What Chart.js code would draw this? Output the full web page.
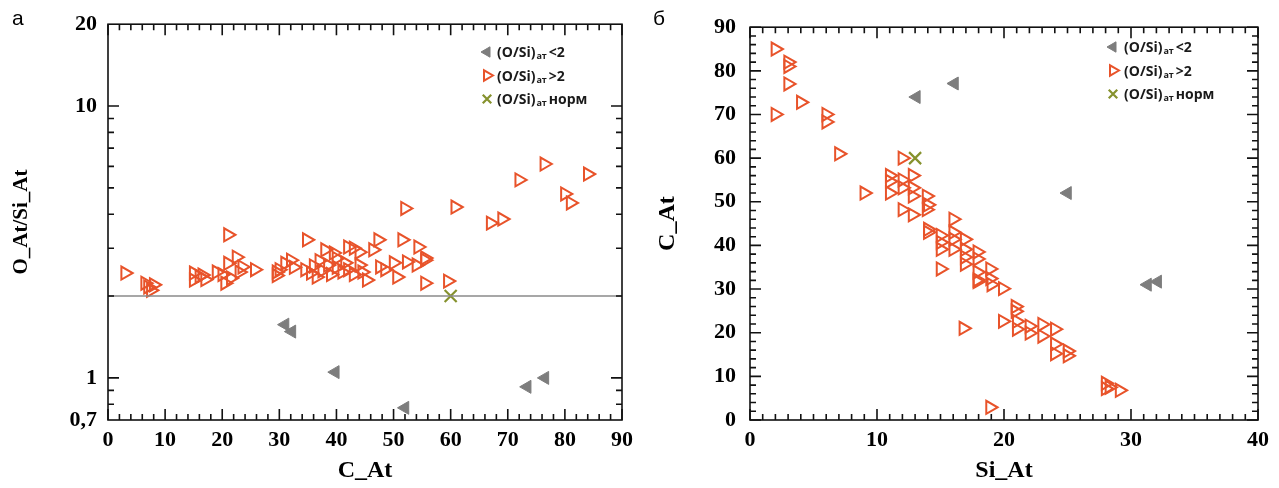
<!DOCTYPE html>
<html><head><meta charset="utf-8">
<script src="https://cdn.jsdelivr.net/npm/chart.js@4.4.0/dist/chart.umd.min.js"></script>
<style>
html,body{margin:0;padding:0;background:#fff;width:1279px;height:488px;overflow:hidden;}
.wrap{position:absolute;top:0;height:488px;}
#wa{left:0;width:640px;} #wb{left:640px;width:639px;}
.lbl{position:absolute;z-index:5;font-family:'Liberation Sans',Arial,sans-serif;font-size:21px;color:#000;}
</style></head><body>
<div class="wrap" id="wa"><canvas id="ca"></canvas></div>
<div class="wrap" id="wb"><canvas id="cb"></canvas></div>
<div class="lbl" style="left:12px;top:6px;">а</div>
<div class="lbl" style="left:653px;top:6px;">б</div>
<script>
// ---------- Panel а : C_At vs O_At/Si_At ----------
const aLow  = [[31,1.57],[32.2,1.48],[39.8,1.05],[52,0.776],[73.4,0.927],[76.5,1.0]];
const aHigh = [[3,2.43],[6.5,2.23],[7,2.16],[7.5,2.1],[8,2.2],
  [15,2.43],[15,2.29],[16,2.36],[16.5,2.39],[17,2.3],
  [19,2.45],[20,2.4],[20.5,2.23],[21,3.36],[21,2.64],[21.5,2.33],[22.5,2.78],[23,2.45],[23.5,2.56],[25.7,2.5],
  [29.5,2.45],[29.5,2.38],[30,2.5],[31,2.64],[32,2.71],[32.5,2.55],[34.8,3.22],
  [34.5,2.5],[35.5,2.43],[36,2.58],[36.5,2.35],[37,2.7],[37.5,2.48],[38,2.96],[38.5,2.6],[39,2.4],[39.5,2.88],
  [40,2.55],[40,2.75],[41,2.45],[41.5,2.65],[42,3.03],[42,2.5],[43,3.0],[43,2.4],[44,2.9],[44,2.6],[44.5,2.45],
  [45.3,2.29],[46.4,2.96],[47.3,3.22],[47.6,2.56],[48.5,2.5],[50,2.65],[50.6,2.35],[51.5,3.22],[52,4.2],[52.3,2.67],
  [54,2.6],[54.3,3.03],[55.5,2.76],[55.5,2.71],[55.5,2.23],[59.5,2.27],[60.8,4.25],
  [67,3.71],[69,3.84],[72,5.35],[76.4,6.12],[80,4.75],[81,4.4],[84,5.62]];
const aNorm = [[60,2.0]];
const aRefLine = [[0,2],[90,2]];
const aXTicks = [0,10,20,30,40,50,60,70,80,90];
const aYTicks = [0.7,1,10,20];
const aYMinor = [0.8,0.9,2,3,4,5,6,7,8,9];

// ---------- Panel б : Si_At vs C_At ----------
const bLow  = [[13.1,74],[16.1,77.1],[25,52],[31.3,31],[32.1,31.7]];
const bHigh = [[2,85],[3,82],[3,81],[3,77],[4,72.8],[2,70],[6,70],[6,68.3],[7,61],[12,60],
  [11,56],[11,54.7],[11,52],[12,55],[12,53.2],[12.8,56],[12.8,53.2],[12.8,51.3],[13.9,51.3],[14,49.3],[13.9,48.2],
  [12,48.2],[12.8,47],[9,52],[16,46],
  [14,43.7],[14,43],[15,42.3],[15,40.7],[15,39.1],[16,43],[16,41.4],[16,39.1],[16.9,41.4],[16.9,39.1],[16.9,37.3],
  [16.9,35.7],[17.9,38.5],[17.9,36.9],[15,34.6],[17.9,33.9],[17.9,32.1],[18.9,34.6],[18.9,32.4],[19.9,30.1],[17.9,31.7],[19,31],
  [20.9,26],[20.9,24.9],[19.9,22.6],[21,22.6],[21,20.8],[22,21.5],[22,19.9],[23,21.9],[23,19.2],[24,20.8],[24,17.4],
  [24,15.2],[25,15.8],[25,14.7],[16.8,21],[18.9,2.9],[28,8.4],[28,7.2],[28.3,7.5],[29.1,6.8]];
const bNorm = [[13,60]];
const bXTicks = [0,10,20,30,40];
const bYTicks = [0,10,20,30,40,50,60,70,80,90];

const legendTexts = ['<2','>2','норм'];

const ORANGE = '#e8532a', GREY = '#7d7d7d', OLIVE = '#86922e';
const serif = 'Liberation Serif';
const pts = arr => arr.map(p => ({x:p[0], y:p[1]}));
const range = (a,b,s) => { const r=[]; for(let v=a; v<=b+1e-9; v+=s) r.push(+v.toFixed(6)); return r; };

const styleLow  = {pointStyle:'triangle', rotation:-90, radius:7.5, borderWidth:1, backgroundColor:GREY, borderColor:GREY};
const styleHigh = {pointStyle:'triangle', rotation:90, radius:7.5, borderWidth:2, backgroundColor:'rgba(255,255,255,0)', borderColor:ORANGE};
const styleNorm = {pointStyle:'crossRot', rotation:0, radius:8.5, borderWidth:2.2, backgroundColor:'rgba(0,0,0,0)', borderColor:OLIVE};

function ds(label, arr, st){
  return {label, data:pts(arr), pointStyle:st.pointStyle, rotation:st.rotation, pointRadius:st.radius,
    pointHoverRadius:st.radius, pointBorderWidth:st.borderWidth, pointBackgroundColor:st.backgroundColor,
    pointBorderColor:st.borderColor, showLine:false};
}

const framePlugin = {
  id:'frame',
  afterDatasetsDraw(chart, args, o){
    const {ctx, chartArea:a, scales:{x,y}} = chart;
    ctx.save();
    ctx.strokeStyle='#111'; ctx.lineWidth=1.6;
    ctx.strokeRect(a.left,a.top,a.right-a.left,a.bottom-a.top);
    ctx.beginPath();
    const tk=(vals,len,axis)=>{ for(const v of vals){
      if(axis==='x'){ const px=x.getPixelForValue(v); ctx.moveTo(px,a.bottom); ctx.lineTo(px,a.bottom-len); ctx.moveTo(px,a.top); ctx.lineTo(px,a.top+len); }
      else { const py=y.getPixelForValue(v); ctx.moveTo(a.left,py); ctx.lineTo(a.left+len,py); ctx.moveTo(a.right,py); ctx.lineTo(a.right-len,py); } } };
    tk(o.xMajor,11,'x'); tk(o.xMinor,6,'x'); tk(o.yMajor,11,'y'); tk(o.yMinor,6,'y');
    ctx.stroke(); ctx.restore();
  }
};

const legendPlugin = {
  id:'symlegend',
  afterDraw(chart, args, o){
    const ctx = chart.ctx;
    const styles=[styleLow, styleHigh, styleNorm];
    ctx.save();
    styles.forEach((st,i)=>{
      const y = o.y + i*o.dy;
      ctx.fillStyle = st.backgroundColor; ctx.strokeStyle = st.borderColor; ctx.lineWidth = st.borderWidth;
      Chart.helpers.drawPoint(ctx, {pointStyle:st.pointStyle, rotation:st.rotation, radius:6, borderWidth:st.borderWidth}, o.sx, y);
      ctx.fillStyle='#1a1a1a'; ctx.textBaseline='alphabetic'; ctx.textAlign='left';
      let x = o.tx;
      ctx.font = 'bold 14px "Open Sans"';
      ctx.fillText('(O/Si)', x, y+5); x += ctx.measureText('(O/Si)').width + 1;
      ctx.font = 'bold 9px "Open Sans"';
      ctx.fillText('ат', x, y+7); x += ctx.measureText('ат').width + 2;
      ctx.font = 'bold 14px "Open Sans"';
      ctx.fillText(legendTexts[i], x, y+5);
    });
    ctx.restore();
  }
};

const tickFont = {family:serif, weight:'bold', size:22};
const titleFont = {family:serif, weight:'bold', size:24};
const yTitleFont = {family:serif, weight:'bold', size:21};

// Chart а
new Chart(document.getElementById('ca'), {
  type:'scatter',
  data:{datasets:[
    {type:'line', label:'ref', data:pts(aRefLine), borderColor:'#8a8a8a', borderWidth:1.5, pointRadius:0, fill:false},
    ds('low', aLow, styleLow), ds('high', aHigh, styleHigh), ds('norm', aNorm, styleNorm)
  ]},
  options:{
    responsive:true, maintainAspectRatio:false, animation:false, events:[],
    layout:{padding:{left:0,top:24,right:18,bottom:0}},
    plugins:{legend:{display:false}, tooltip:{enabled:false},
      frame:{xMajor:aXTicks, xMinor:range(0,90,2), yMajor:[1,10], yMinor:aYMinor},
      symlegend:{sx:487, tx:497, y:52, dy:23.5}},
    scales:{
      x:{type:'linear', min:0, max:90, afterFit:s=>{s.height=68;},
        afterBuildTicks:s=>{s.ticks=aXTicks.map(v=>({value:v}));},
        grid:{display:false, drawTicks:false}, border:{display:false},
        ticks:{font:tickFont, color:'#000', padding:7, maxRotation:0, autoSkip:false},
        title:{display:true, text:'C_At', font:titleFont, color:'#000', padding:{top:0,bottom:3}}},
      y:{type:'logarithmic', min:0.7, max:20, afterFit:s=>{s.width=108;},
        afterBuildTicks:s=>{s.ticks=aYTicks.map(v=>({value:v}));},
        grid:{display:false, drawTicks:false}, border:{display:false},
        ticks:{font:tickFont, color:'#000', padding:11, autoSkip:false, callback:v=>String(v).replace('.',',')},
        title:{display:true, text:'O_At/Si_At', font:yTitleFont, color:'#000', padding:{top:9,bottom:0}}}
    }
  },
  plugins:[framePlugin, legendPlugin]
});

// Chart б
new Chart(document.getElementById('cb'), {
  type:'scatter',
  data:{datasets:[ds('low', bLow, styleLow), ds('high', bHigh, styleHigh), ds('norm', bNorm, styleNorm)]},
  options:{
    responsive:true, maintainAspectRatio:false, animation:false, events:[],
    layout:{padding:{left:0,top:22,right:21,bottom:0}},
    plugins:{legend:{display:false}, tooltip:{enabled:false},
      frame:{xMajor:bXTicks, xMinor:range(0,40,1), yMajor:bYTicks, yMinor:range(0,90,2)},
      symlegend:{sx:473, tx:484, y:47, dy:23.5}},
    scales:{
      x:{type:'linear', min:0, max:40, afterFit:s=>{s.height=68;},
        afterBuildTicks:s=>{s.ticks=bXTicks.map(v=>({value:v}));},
        grid:{display:false, drawTicks:false}, border:{display:false},
        ticks:{font:tickFont, color:'#000', padding:7, maxRotation:0, autoSkip:false},
        title:{display:true, text:'Si_At', font:titleFont, color:'#000', padding:{top:0,bottom:3}}},
      y:{type:'linear', min:0, max:90, afterFit:s=>{s.width=110;},
        afterBuildTicks:s=>{s.ticks=bYTicks.map(v=>({value:v}));},
        grid:{display:false, drawTicks:false}, border:{display:false},
        ticks:{font:tickFont, color:'#000', padding:14, autoSkip:false},
        title:{display:true, text:'C_At', font:titleFont, color:'#000', padding:{top:13,bottom:0}}}
    }
  },
  plugins:[framePlugin, legendPlugin]
});
</script>
</body></html>
